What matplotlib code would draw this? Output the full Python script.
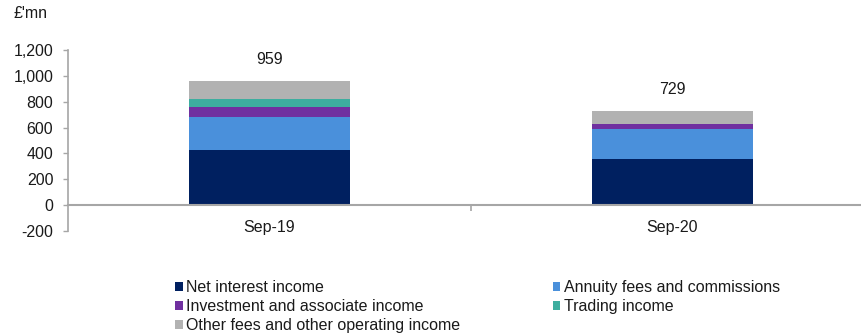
import matplotlib
matplotlib.use("Agg")
import matplotlib.pyplot as plt
from matplotlib.ticker import FuncFormatter, FixedLocator
import numpy as np

plt.rcParams['font.family'] = ['Liberation Sans', 'DejaVu Sans']

periods = ["Sep-19", "Sep-20"]
series_names = [
    "Net interest income",
    "Annuity fees and commissions",
    "Investment and associate income",
    "Trading income",
    "Other fees and other operating income",
]
net_interest = [423, 356]
annuity_fees = [262, 230]
investment_income = [76, 39]
trading_income = [62, 0]
other_income = [136, 104]
totals = [959, 729]
y_ticks = [-200, 0, 200, 400, 600, 800, 1000, 1200]

colors = ["#002060", "#4A90DB", "#7030A0", "#3DAE9F", "#B2B2B2"]
values = [net_interest, annuity_fees, investment_income, trading_income, other_income]

FS = 11.5
TXT = "#1a1a1a"
W, H = 861, 336
fig = plt.figure(figsize=(W / 100, H / 100), dpi=100)
ax_left, ax_right = 68, 874
ax_top, ax_bottom = 50, 231
ax = fig.add_axes([ax_left / W, 1 - ax_bottom / H,
                   (ax_right - ax_left) / W, (ax_bottom - ax_top) / H])

x = np.arange(len(periods))
bottom = np.zeros(len(periods))
handles = []
for name, vals, col in zip(series_names, values, colors):
    b = ax.bar(x, vals, width=0.4, bottom=bottom, color=col, label=name,
               edgecolor="none")
    handles.append(b)
    bottom += np.array(vals)

for xi, tot in zip(x, totals):
    ax.text(xi, tot + 165, f"{tot:,}", ha="center", va="center",
            fontsize=FS, color=TXT)

ax.set_xlim(-0.5, 1.5)
ax.set_ylim(-200, 1200)
ax.yaxis.set_major_locator(FixedLocator(y_ticks))
ax.yaxis.set_major_formatter(FuncFormatter(lambda v, p: f"{int(v):,}"))

grey = "#A6A6A6"
for s in ["top", "right"]:
    ax.spines[s].set_visible(False)
ax.spines["left"].set_color(grey)
ax.spines["left"].set_linewidth(1.2)
ax.spines["bottom"].set_position(("data", 0))
ax.spines["bottom"].set_color(grey)
ax.spines["bottom"].set_linewidth(1.5)

ax.tick_params(axis="y", direction="out", length=3.6, width=1, color=grey,
               labelsize=FS, labelcolor=TXT, pad=7)
ax.set_xticks([0.5])
ax.set_xticklabels([""])
ax.tick_params(axis="x", direction="out", length=4, width=1.2, color=grey)
for xi, lab in zip(x, periods):
    ax.text(xi, -170, lab, ha="center", va="center", fontsize=FS, color=TXT)

fig.text(13 / W, 1 - 14 / H, "£'mn", ha="left", va="center", fontsize=FS,
         color=TXT)

leg_kw = dict(frameon=False, fontsize=FS, handlelength=0.5, handleheight=0.5,
              handletextpad=0.22, labelspacing=0.26, borderpad=0, borderaxespad=0,
              labelcolor=TXT)
col1 = [handles[0], handles[2], handles[4]]
col2 = [handles[1], handles[3]]
fig.legend(col1, [h.get_label() for h in col1], loc="upper left",
           bbox_to_anchor=(175 / W, 1 - 280 / H), **leg_kw)
fig.legend(col2, [h.get_label() for h in col2], loc="upper left",
           bbox_to_anchor=(552.5 / W, 1 - 280 / H), **leg_kw)

fig.savefig("out.png", dpi=100)
